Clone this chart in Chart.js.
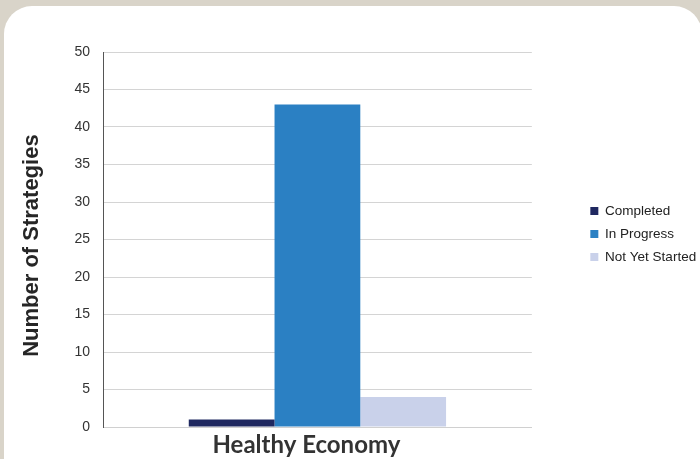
<!DOCTYPE html>
<html>
<head>
<meta charset="utf-8">
<script src="https://cdn.jsdelivr.net/npm/chart.js@4.4.0/dist/chart.umd.min.js"></script>
<style>
  html, body { margin: 0; padding: 0; background: #d9d4c9; overflow: hidden; }
  #card { position: absolute; left: 4px; top: 6px; width: 698px; height: 520px; background: #fff; border-radius: 28px; }
  #chart { position: absolute; left: 0; top: 0; }
</style>
</head>
<body>
<div id="card"></div>
<canvas id="chart" width="700" height="459"></canvas>
<script>
const categories = ['Healthy Economy'];
const seriesNames = ['Completed', 'In Progress', 'Not Yet Started'];
const completed = [1];
const inProgress = [43];
const notYetStarted = [4];
const yTicks = [0, 5, 10, 15, 20, 25, 30, 35, 40, 45, 50];

const colors = ['#1f2860', '#2b80c3', '#c9d1ea'];

function createChart() {
    const ctx = document.getElementById('chart').getContext('2d');
    new Chart(ctx, {
        type: 'bar',
        data: {
            labels: categories,
            datasets: [
                { label: seriesNames[0], data: completed, backgroundColor: colors[0] },
                { label: seriesNames[1], data: inProgress, backgroundColor: colors[1] },
                { label: seriesNames[2], data: notYetStarted, backgroundColor: colors[2] }
            ]
        },
        options: {
            responsive: false,
            animation: false,
            categoryPercentage: 0.6,
            barPercentage: 1.0,
            layout: { padding: { top: 9, left: 0, right: 3, bottom: 0 } },
            plugins: {
                tooltip: { enabled: false },
                // empty title only pushes the plot down, not the legend
                title: {
                    display: true,
                    text: '',
                    fullSize: false,
                    padding: 0,
                    font: { size: 43, lineHeight: 1 }
                },
                legend: {
                    position: 'right',
                    labels: {
                        boxWidth: 8,
                        boxHeight: 8,
                        padding: 9.5,
                        color: '#222',
                        font: { family: 'Liberation Sans', size: 13.5 }
                    }
                }
            },
            scales: {
                x: {
                    grid: { display: false },
                    border: { color: '#d0d0d0', width: 1 },
                    ticks: {
                        color: '#333',
                        labelOffset: -11,
                        padding: -4,
                        font: { family: 'Lato', size: 24, weight: 'bold' }
                    },
                    afterFit: s => { s.height = 32; }
                },
                y: {
                    min: 0,
                    max: 50,
                    afterBuildTicks: s => { s.ticks = yTicks.map(v => ({ value: v })); },
                    grid: { color: '#d4d4d4', drawTicks: false },
                    border: { color: '#555', width: 1 },
                    ticks: {
                        color: '#333',
                        padding: 13,
                        font: { family: 'Liberation Sans', size: 14 }
                    },
                    title: {
                        display: true,
                        text: 'Number of Strategies  ',
                        color: '#262626',
                        padding: { top: 19, bottom: 0 },
                        font: { family: 'Liberation Sans', size: 22, weight: 'bold' }
                    },
                    afterFit: s => { s.width = 103; }
                },
                spacer: {
                    type: 'linear',
                    position: 'right',
                    display: true,
                    grid: { display: false },
                    border: { display: false },
                    ticks: { display: false },
                    afterFit: s => { s.width = 49; }
                }
            }
        }
    });
}

window.onload = function () {
    createChart();
};
</script>
</body>
</html>
